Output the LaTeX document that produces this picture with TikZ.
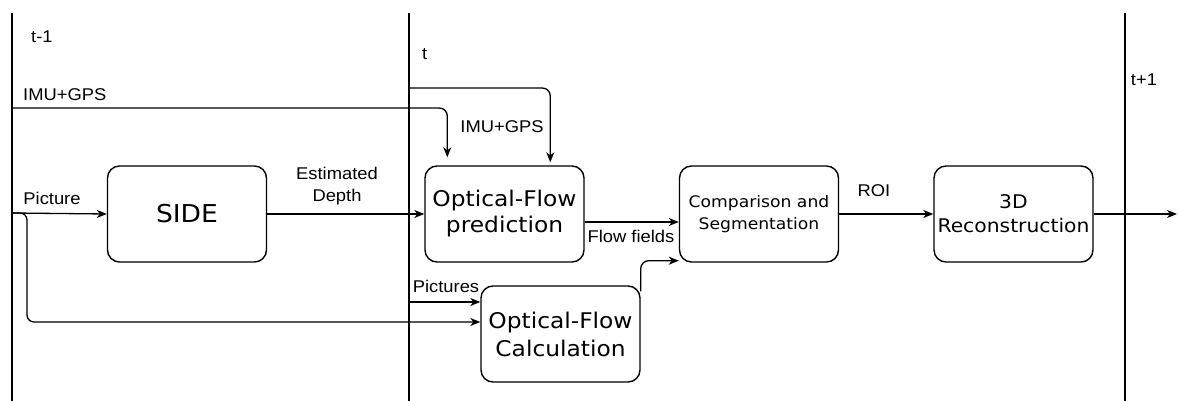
\documentclass[tikz,border=0pt]{standalone}
\usepackage{fontspec}
\setmainfont[FakeStretch=1.08]{Liberation Sans}
\newfontfamily\dvfont[FakeStretch=1.08]{DejaVu Sans}
\usetikzlibrary{arrows.meta,calc}
\begin{document}
\begin{tikzpicture}[x=1pt,y=-1pt,
  box/.style={draw, line width=1.4pt, rounded corners=12pt, minimum width=159pt, minimum height=96pt, align=center, inner sep=0pt},
  lbl/.style={inner sep=0pt, font=\fontsize{17}{22}\selectfont, align=center},
  arr/.style={line width=1.3pt, -{Stealth[length=10pt,width=8pt,inset=3pt]}},
  tline/.style={line width=1.6pt}]
\useasboundingbox (0,0) rectangle (1178,401);
% time separators
\coordinate (v1t) at (12,13); \coordinate (v1b) at (12,401);
\coordinate (v2t) at (409,13); \coordinate (v2b) at (409,401);
\coordinate (v3t) at (1125,13); \coordinate (v3b) at (1125,401);
\draw[tline] (v1t) -- (v1b);
\draw[tline] (v2t) -- (v2b);
\draw[tline] (v3t) -- (v3b);
% boxes
\node[box, font=\dvfont\fontsize{24.6}{28}\selectfont] (side) at (187,214) {SIDE};
\node[box, font=\dvfont\fontsize{21.6}{26}\selectfont] (ofp) at (504.5,214) {Optical-Flow\\prediction};
\node[box, font=\dvfont\fontsize{15.9}{22}\selectfont] (comp) at (759,214) {Comparison and\\Segmentation};
\node[box, font=\dvfont\fontsize{18.8}{24}\selectfont] (rec) at (1013.5,214) {3D\\Reconstruction};
\node[box, font=\dvfont\fontsize{21.6}{28}\selectfont] (ofc) at (560.5,334) {Optical-Flow\\Calculation};
% labels
\node[lbl, anchor=west] (tm1) at (31,37) {t-1};
\node[lbl, anchor=west] (imu1) at (23,95) {IMU+GPS};
\node[lbl, anchor=west] (tt) at (422,54) {t};
\node[lbl] (imu2) at (502,127) {IMU+GPS};
\node[lbl] (tp1) at (1144,80) {t+1};
\node[lbl] (picl) at (52,198) {Picture};
\node[lbl] (estd) at (337,186) {Estimated\\Depth};
\node[lbl] (flowl) at (631,236) {Flow fields};
\node[lbl] (picsl) at (446,286) {Pictures};
\node[lbl] (roil) at (874,191) {ROI};
% connectors
\coordinate (imuA) at (12,108);
\coordinate (imuB) at (409,88);
\coordinate (picIn) at (12,213);
\coordinate (picsIn) at (409,302);
\coordinate (outEnd) at (1177,214);
\draw[arr, rounded corners=8pt] (imuA) -| ($(ofp.north west)+(23,-8)$);
\draw[arr, rounded corners=8pt] (imuB) -| ($(ofp.north west)+(126,-3)$);
\draw[arr] (picIn) -- (side.west);
\draw[arr, rounded corners=7pt] (picIn) -- ++(15,0) |- ($(ofc.west)+(0,-12)$);
\draw[arr] (picsIn) -- (picsIn -| ofc.west);
\draw[arr] (side.east) -- (ofp.west);
\draw[arr] ([yshift=-8pt]ofp.east) -- ([yshift=-8pt]comp.west);
\draw[arr, rounded corners=8pt] ([yshift=-6pt]ofc.north east) |- ([yshift=2pt]comp.south west);
\draw[arr] (comp.east) -- (rec.west);
\draw[arr] (rec.east) -- (outEnd);
\end{tikzpicture}
\end{document}
